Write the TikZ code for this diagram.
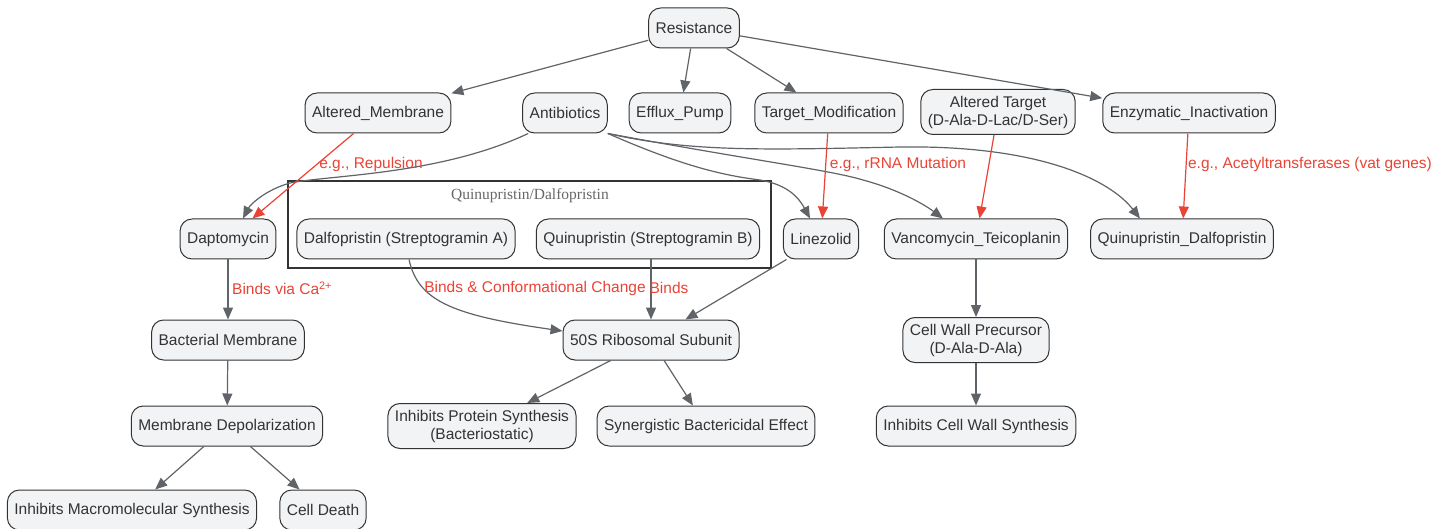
\documentclass[tikz,border=0pt]{standalone}
\usepackage{fontspec}
\setmainfont{Liberation Sans}
\newfontfamily\clusterfont{Liberation Serif}
\usetikzlibrary{arrows.meta}

\definecolor{nodefill}{HTML}{F2F3F5}
\definecolor{nodeline}{HTML}{333333}
\definecolor{edgegray}{HTML}{606368}
\definecolor{edgered}{HTML}{EA4335}
\definecolor{clustertext}{HTML}{666666}

\tikzset{
  box/.style={draw=nodeline, fill=nodefill, rounded corners=12pt, line width=1pt,
    minimum height=40pt, inner xsep=7pt, inner ysep=3pt, align=center,
    text=nodeline, font=\fontsize{15.5}{18}\selectfont},
  twoline/.style={minimum height=45pt},
  arr/.style={draw=edgegray, line width=1.2pt, -{Triangle[length=12pt,width=10pt]}},
  redarr/.style={draw=edgered, line width=1.2pt, -{Triangle[length=12pt,width=10pt]}},
  lbl/.style={text=edgered, inner sep=0pt, font=\fontsize{15.5}{18}\selectfont},
}

\begin{document}
\begin{tikzpicture}[x=1pt, y=-1pt] %Mecanismos de resistencia
            \useasboundingbox (0,0) rectangle (1450,529);

            \draw[nodeline, line width=1.3pt] (288,181) rectangle (771,268);
            \node[text=clustertext, font=\clusterfont\fontsize{15.5}{18}\selectfont] (cluster) at (530,196) {Quinupristin/Dalfopristin};

            \node[box] (res) at (694,28) {Resistance};
            \node[box] (altm) at (378,113) {Altered\_Membrane};
            \node[box] (antb) at (565,113) {Antibiotics};
            \node[box] (eff) at (680,113) {Efflux\_Pump};
            \node[box] (tmod) at (829,113) {Target\_Modification};
            \node[box, twoline] (altt) at (998,112) {Altered Target\\(D-Ala-D-Lac/D-Ser)};
            \node[box] (enz) at (1189,113) {Enzymatic\_Inactivation};

            \node[box] (dapt) at (228,239) {Daptomycin};
            \node[box] (dalf) at (406,239) {Dalfopristin (Streptogramin A)};
            \node[box] (quin) at (648,239) {Quinupristin (Streptogramin B)};
            \node[box] (lin) at (821,239) {Linezolid};
            \node[box] (vanc) at (976,239) {Vancomycin\_Teicoplanin};
            \node[box] (qd) at (1182,239) {Quinupristin\_Dalfopristin};

            \node[box] (bmem) at (228,340) {Bacterial Membrane};
            \node[box] (ribo) at (651,340) {50S Ribosomal Subunit};
            \node[box, twoline] (cwp) at (976,340) {Cell Wall Precursor\\(D-Ala-D-Ala)};

            \node[box] (depol) at (227,426) {Membrane Depolarization};
            \node[box, twoline] (ips) at (482,426) {Inhibits Protein Synthesis\\(Bacteriostatic)};
            \node[box] (syn) at (706,426) {Synergistic Bactericidal Effect};
            \node[box] (icw) at (976,426) {Inhibits Cell Wall Synthesis};

            \node[box] (imac) at (132,510) {Inhibits Macromolecular Synthesis};
            \node[box] (death) at (323,510) {Cell Death};

            \draw[arr] (res) -- (altm);
            \draw[arr] (res) -- (eff);
            \draw[arr] (res) -- (tmod);
            \draw[arr] (res) -- (enz);

            \draw[arr] ([xshift=6pt]antb.south west) .. controls (440,175) and (330,175) .. (290,183)
                .. controls (265,190) and (250,205) .. ([xshift=15pt]dapt.north);
            \draw[arr] (antb.south east) .. controls (680,165) and (720,175) .. (760,180)
                .. controls (790,185) and (800,200) .. ([xshift=-11pt]lin.north);
            \draw[arr] (antb.south east) .. controls (750,160) and (830,170) .. (863,180)
                .. controls (900,190) and (925,205) .. ([xshift=-33pt]vanc.north);
            \draw[arr] (antb.south east) .. controls (690,152) and (760,150) .. (900,147)
                .. controls (1040,145) and (1110,180) .. ([xshift=-42pt]qd.north);

            \draw[redarr] (altm) -- (dapt);
            \draw[redarr] (tmod) -- (lin);
            \draw[redarr] (altt) -- (vanc);
            \draw[redarr] (enz) -- (qd);
            \node[lbl] (lrep) at (371,164) {e.g., Repulsion};
            \node[lbl] (lrrna) at (898,164) {e.g., rRNA Mutation};
            \node[lbl] (lvat) at (1310,164) {e.g., Acetyltransferases (vat genes)};

            \draw[arr] (dapt) -- (bmem);
            \node[lbl, anchor=west] (lca) at (232,288) {Binds via Ca\textsuperscript{2+}};
            \draw[arr] ([xshift=3pt]dalf.south) .. controls (418,300) and (450,315) .. ([yshift=9pt]ribo.west);
            \node[lbl] (lconf) at (535,288) {Binds \& Conformational Change};
            \draw[arr] (quin.south -| ribo.north) -- (ribo.north);
            \node[lbl] (lbind) at (669,288) {Binds};
            \draw[arr] (lin) -- (ribo);
            \draw[arr] (vanc) -- (cwp);

            \draw[arr] (bmem) -- (depol);
            \draw[arr] (ribo) -- (ips);
            \draw[arr] (ribo) -- (syn);
            \draw[arr] (cwp) -- (icw);
            \draw[arr] (depol) -- (imac);
            \draw[arr] (depol) -- (death);
        \end{tikzpicture}
\end{document}
